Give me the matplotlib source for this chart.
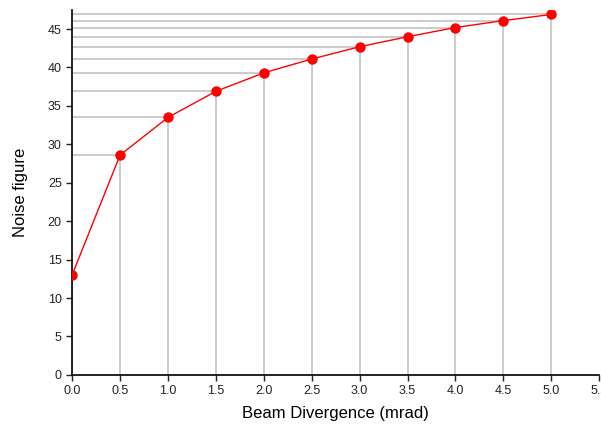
import matplotlib
matplotlib.use("Agg")
import matplotlib.pyplot as plt

# ── Data ───────────────────────────────────────────────────────────
divergence = [0.0, 0.5, 1.0, 1.5, 2.0, 2.5, 3.0, 3.5, 4.0, 4.5, 5.0]
noise_figure = [13.0, 28.6, 33.5, 36.9, 39.3, 41.1, 42.7, 44.0, 45.2, 46.1, 46.9]

x_ticks = [0.0, 0.5, 1.0, 1.5, 2.0, 2.5, 3.0, 3.5, 4.0, 4.5, 5.0, 5.5]
y_ticks = [0, 5, 10, 15, 20, 25, 30, 35, 40, 45]

plt.rcParams["font.family"] = ["Liberation Sans", "DejaVu Sans"]

# ── Plot ───────────────────────────────────────────────────────────
fig = plt.figure(figsize=(6.01, 4.28), dpi=100)
ax = fig.add_axes([0.12, 0.124, 0.877, 0.853])

# drop lines to both axes
for xv, yv in zip(divergence, noise_figure):
    ax.plot([xv, xv], [0, yv], color="#c8c8c8", lw=1.3, zorder=1)
    ax.plot([0, xv], [yv, yv], color="#c8c8c8", lw=1.3, zorder=1)

ax.plot(divergence, noise_figure, color="red", lw=1.0, marker="o",
        markersize=6.5, markeredgecolor="red", markerfacecolor="red", zorder=3)

ax.set_xlim(0, 5.5)
ax.set_ylim(0, 47.5)
ax.set_xticks(x_ticks)
ax.set_xticklabels([f"{v:.1f}" for v in x_ticks])
ax.set_yticks(y_ticks)

for side in ["top", "right"]:
    ax.spines[side].set_visible(False)
for side in ["left", "bottom"]:
    ax.spines[side].set_linewidth(1.2)

ax.tick_params(axis="both", labelsize=9, length=4, width=1, colors="#222222")
ax.set_xlabel("Beam Divergence (mrad)", fontsize=12, labelpad=6)
ax.set_ylabel("Noise figure", fontsize=12, labelpad=14)

fig.savefig("out.png", dpi=100)
